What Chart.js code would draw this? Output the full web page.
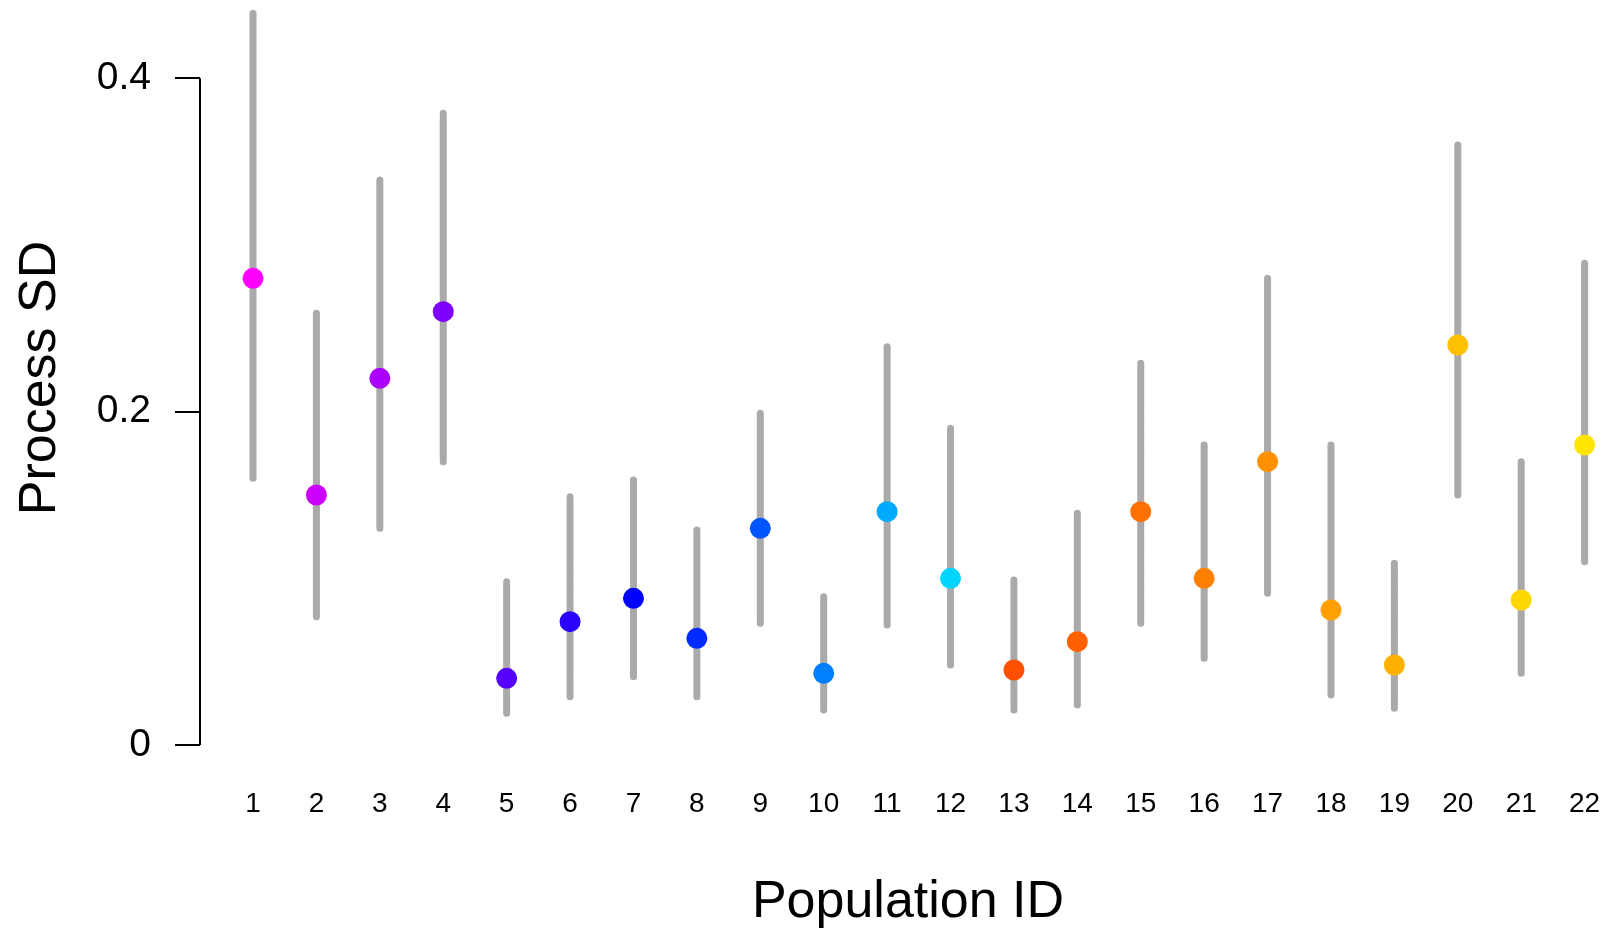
<!DOCTYPE html>
<html>
<head>
<meta charset="utf-8">
<script src="https://cdn.jsdelivr.net/npm/chart.js@4"></script>
<style>
  html, body { margin: 0; padding: 0; background: #fff; overflow: hidden; }
</style>
</head>
<body>
<canvas id="sd-chart" width="1616" height="931"></canvas>
<script>
// population ids and process SD estimates with interval ends
const popIds = [1,2,3,4,5,6,7,8,9,10,11,12,13,14,15,16,17,18,19,20,21,22];
const sdMean = [0.280,0.150,0.220,0.260,0.040,0.074,0.088,0.064,0.130,0.043,0.140,0.100,0.045,0.062,0.140,0.100,0.170,0.081,0.048,0.240,0.087,0.180];
const sdLow  = [0.160,0.077,0.130,0.170,0.019,0.029,0.041,0.029,0.073,0.021,0.072,0.048,0.021,0.024,0.073,0.052,0.091,0.030,0.022,0.150,0.043,0.110];
const sdHigh = [0.439,0.259,0.339,0.379,0.098,0.149,0.159,0.129,0.199,0.089,0.239,0.190,0.099,0.139,0.229,0.180,0.280,0.180,0.109,0.360,0.170,0.289];
const dotColors = ['#ff00ff','#cc00ff','#aa00ff','#7f00ff','#5500ff','#2a00ff','#0000ff','#002aff','#0055ff','#007fff','#00aaff','#00d4ff',
                   '#ff5000','#ff6000','#ff7000','#ff8000','#ff9000','#ffa000','#ffb000','#ffc000','#ffd700','#ffe500'];
const yTicks = [0, 0.2, 0.4];

const font = 'Liberation Sans, Arial, Helvetica, sans-serif';

// whiskers as one line broken by gaps
let whiskerPts = popIds.flatMap((id, i) => [
  { x: id, y: sdLow[i] },
  { x: id, y: sdHigh[i] },
  { x: id, y: null }
]);

// R style axis line, only from first to last tick
let axisLine = {
  id: 'axisLine',
  afterDraw(chart) {
    let y = chart.scales.y;
    let ctx = chart.ctx;
    ctx.save();
    ctx.strokeStyle = '#000';
    ctx.lineWidth = 2;
    ctx.beginPath();
    ctx.moveTo(chart.chartArea.left, y.getPixelForValue(yTicks[0]));
    ctx.lineTo(chart.chartArea.left, y.getPixelForValue(yTicks[yTicks.length - 1]));
    ctx.stroke();
    ctx.restore();
  }
};

new Chart(document.getElementById('sd-chart'), {
  type: 'scatter',
  data: {
    datasets: [
      {
        data: popIds.map((id, i) => ({ x: id, y: sdMean[i] })),
        backgroundColor: dotColors,
        borderWidth: 0,
        pointRadius: 10.5,
        order: 0
      },
      {
        type: 'line',
        data: whiskerPts,
        borderColor: '#aaaaaa',
        borderWidth: 7,
        borderCapStyle: 'round',
        pointRadius: 0,
        spanGaps: false,
        clip: false,
        order: 1
      }
    ]
  },
  options: {
    responsive: false,
    devicePixelRatio: 1,
    animation: false,
    events: [],
    layout: { padding: 0, autoPadding: false },
    plugins: { legend: { display: false }, tooltip: { enabled: false } },
    scales: {
      x: {
        type: 'linear',
        offset: false,
        min: 0.164,
        max: 22.495,
        afterBuildTicks: s => { s.ticks = popIds.map(v => ({ value: v })); },
        afterFit: s => { s.height = 175; s.paddingLeft = 0; s.paddingRight = 0; },
        grid: { display: false, drawTicks: false },
        border: { display: false },
        ticks: {
          autoSkip: false,
          maxRotation: 0,
          padding: 31,
          color: '#000',
          font: { family: font, size: 28 },
          callback: v => String(v)
        },
        title: {
          display: true,
          text: 'Population ID',
          color: '#000',
          font: { family: font, size: 52, lineHeight: 1.08 },
          padding: 0
        }
      },
      y: {
        type: 'linear',
        min: -0.0066,
        max: 0.447,
        afterBuildTicks: s => { s.ticks = yTicks.map(v => ({ value: v })); },
        afterFit: s => { s.width = 200; s.paddingTop = 0; s.paddingBottom = 0; },
        grid: { display: true, drawOnChartArea: false, drawTicks: true, tickLength: 25, color: '#000', lineWidth: 2 },
        border: { display: false },
        ticks: {
          padding: 24,
          color: '#000',
          font: { family: font, size: 39 },
          callback: v => String(v)
        },
        title: {
          display: true,
          text: 'Process SD',
          color: '#000',
          font: { family: font, size: 52 },
          padding: { top: 9, bottom: 0 }
        }
      }
    }
  },
  plugins: [axisLine]
});
</script>
</body>
</html>
